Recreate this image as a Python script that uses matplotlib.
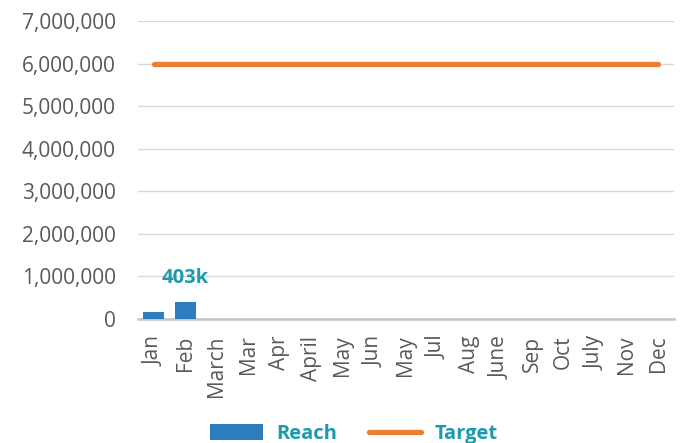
import matplotlib
matplotlib.use("Agg")
import matplotlib.pyplot as plt
from matplotlib.ticker import FuncFormatter
from matplotlib.patches import Patch
from matplotlib.lines import Line2D

plt.rcParams['font.family'] = ['Open Sans', 'DejaVu Sans']

categories = ["Jan", "Feb", "March", "Mar", "Apr", "April", "May", "Jun", "May",
              "Jul", "Aug", "June", "Sep", "Oct", "July", "Nov", "Dec"]
reach = [170000, 403000]
target = [6000000] * len(categories)
reach_label = "403k"

blue = "#2E7CC0"
orange = "#ED7D31"
teal = "#1B9AB0"
tick_color = "#595959"

fig = plt.figure(figsize=(6.85, 4.43), dpi=100)
ax = fig.add_axes([138/685, 1 - 319/443, 536/685, 298/443])

x = list(range(len(categories)))
ax.bar(x[:len(reach)], reach, width=0.67, color=blue, zorder=3)
ax.plot(x, target, color=orange, lw=3.8, solid_capstyle='round', zorder=4)
ax.text(1, reach[1] + 550000, reach_label, ha='center', va='center',
        color=teal, fontsize=14.5, fontweight='bold', zorder=5)

ax.set_xlim(-0.5, len(categories) - 0.5)
ax.set_ylim(0, 7000000)
ax.set_yticks(range(0, 7000001, 1000000))
ax.yaxis.set_major_formatter(FuncFormatter(lambda v, p: f"{int(v):,}"))
ax.set_xticks(x)
ax.set_xticklabels(categories, rotation=90)
ax.tick_params(axis='both', length=0, labelsize=15, colors=tick_color)
ax.tick_params(axis='y', pad=16)
ax.tick_params(axis='x', pad=12)
ax.grid(axis='y', color='#d9d9d9', lw=1, zorder=0)
for s in ['top', 'right', 'left']:
    ax.spines[s].set_visible(False)
ax.spines['bottom'].set_color('#c4c4c4')
ax.spines['bottom'].set_linewidth(1.8)
ax.spines['bottom'].set_zorder(2)

handles = [Patch(facecolor=blue, edgecolor='none', label='Reach'),
           Line2D([0], [0], color=orange, lw=3.8, solid_capstyle='round', label='Target')]
leg = fig.legend(handles=handles, loc='center', bbox_to_anchor=(354/685, 1 - 434/443),
                 ncol=2, frameon=False, handlelength=2.6, handleheight=0.8,
                 handletextpad=0.65, columnspacing=1.6,
                 prop={'size': 14.5, 'weight': 'bold'})
for t in leg.get_texts():
    t.set_color(teal)

fig.savefig("out.png", dpi=100)
